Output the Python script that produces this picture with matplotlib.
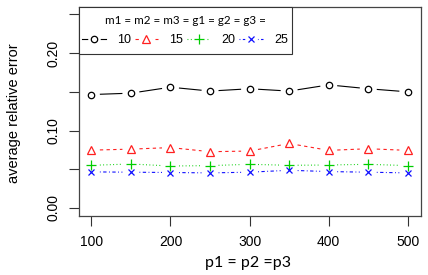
import matplotlib
matplotlib.use("Agg")
import matplotlib.pyplot as plt
from matplotlib.lines import Line2D
from matplotlib.patches import Rectangle
from matplotlib.ticker import FixedLocator, FixedFormatter
import numpy as np

p_values = [100, 150, 200, 250, 300, 350, 400, 450, 500]
err_10 = [0.1465, 0.1483, 0.1560, 0.1510, 0.1540, 0.1510, 0.1590, 0.1540, 0.1500]
err_15 = [0.0747, 0.0760, 0.0780, 0.0727, 0.0735, 0.0833, 0.0744, 0.0765, 0.0744]
err_20 = [0.0551, 0.0568, 0.0542, 0.0547, 0.0564, 0.0551, 0.0555, 0.0564, 0.0547]
err_25 = [0.0466, 0.0462, 0.0458, 0.0453, 0.0462, 0.0487, 0.0470, 0.0462, 0.0453]
series_labels = ["10", "15", "20", "25"]
legend_title = "m1 = m2 = m3 = g1 = g2 = g3 ="
x_label = "p1 = p2 =p3"
y_label = "average relative error"
y_ticks = [0.00, 0.05, 0.10, 0.15, 0.20, 0.25]
y_ticklabels = ["0.00", "", "0.10", "", "0.20", ""]
x_ticks = [100, 200, 300, 400, 500]

plt.rcParams['font.family'] = ['Liberation Sans', 'DejaVu Sans']

W, H = 428, 275
fig = plt.figure(figsize=(W / 100, H / 100), dpi=100)
ax_h_px = 215.7 - 6.7
ax = fig.add_axes([78.7 / W, 1 - 215.7 / H, (420.5 - 78.7) / W, ax_h_px / H])
ax.set_xlim(84, 516)
ax.set_ylim(-0.01, 0.26)

styles = [
    dict(color='black', marker='o', ms=4.6, dashes=None),
    dict(color='#FF2020', marker='^', ms=5.2, dashes=(3.0, 3.0)),
    dict(color='#00CD00', marker='+', ms=6.5, dashes=(0.8, 2.2)),
    dict(color='#1010FF', marker='x', ms=4.6, dashes=(0.8, 2.2, 3.0, 2.2)),
]
all_series = [err_10, err_15, err_20, err_25]

gap_px = 8.5
lw = 0.8
for ys, st in zip(all_series, styles):
    disp = ax.transData.transform(np.column_stack([p_values, ys]))
    for i in range(len(disp) - 1):
        a, b = disp[i], disp[i + 1]
        d = b - a
        L = np.hypot(*d)
        u = d / L
        a2 = a + u * gap_px
        b2 = b - u * gap_px
        seg = ax.transData.inverted().transform(np.array([a2, b2]))
        ln, = ax.plot(seg[:, 0], seg[:, 1], color=st['color'], lw=lw,
                      solid_capstyle='butt', dash_capstyle='butt')
        if st['dashes'] is not None:
            ln.set_dashes(st['dashes'])
    ax.plot(p_values, ys, ls='none', marker=st['marker'], ms=st['ms'],
            mfc='none', mec=st['color'], mew=0.9, zorder=4)

ax.yaxis.set_major_locator(FixedLocator(y_ticks))
ax.yaxis.set_major_formatter(FixedFormatter(y_ticklabels))
ax.set_xticks(x_ticks)
ax.tick_params(axis='both', length=7.2, width=0.8, color='#333333', labelsize=10)
ax.tick_params(axis='x', pad=6.5)
ax.tick_params(axis='y', pad=6)
for lab in ax.get_yticklabels():
    lab.set_rotation(90)
    lab.set_va('center')
for sp in ax.spines.values():
    sp.set_linewidth(0.9)
    sp.set_color('#444444')

ax.set_ylabel(y_label, fontsize=10.5)
ax.yaxis.set_label_coords((14 - 78.7) / (420.5 - 78.7), 0.49)
ax.yaxis.label.set_va('center')
ax.yaxis.label.set_ha('center')
ax.set_xlabel(x_label, fontsize=11.5, family=['Lato', 'DejaVu Sans'])
ax.xaxis.set_label_coords((248 - 78.7) / (420.5 - 78.7), -(262.7 - 215.7) / ax_h_px)
ax.xaxis.label.set_va('center')

handles = []
for st in styles:
    line_p = Line2D([], [], color=st['color'], lw=lw)
    if st['dashes'] is not None:
        line_p.set_dashes(st['dashes'])
    white_p = Line2D([], [], ls='none', marker='o', ms=8, mfc='white', mec='white')
    mark_p = Line2D([], [], ls='none', marker=st['marker'], ms=st['ms'],
                    mfc='none', mec=st['color'], mew=0.9)
    handles.append((line_p, white_p, mark_p))

leg = ax.legend(handles, series_labels, loc='upper left', ncol=4, title=legend_title,
                bbox_to_anchor=(0, 1 - 4.3 / ax_h_px),
                fontsize=9, frameon=False, borderaxespad=0, handlelength=1.85,
                labelspacing=0.65,
                handletextpad=0.9, columnspacing=0.32, borderpad=0.3,
                title_fontproperties={'family': ['Lato', 'DejaVu Sans'], 'size': 8.4})
leg.set_zorder(6)

# legend frame box, sized from the rendered legend extent
fig.canvas.draw()
bb = leg.get_window_extent()
inv = ax.transAxes.inverted()
x0, y0 = inv.transform((bb.x0, bb.y0 - 4.0))
x1, _ = inv.transform((bb.x1 + 1.0, bb.y1))
frame = Rectangle((0, y0), x1, 1 - y0, transform=ax.transAxes, facecolor='white',
                  edgecolor='#333333', linewidth=0.8, zorder=5, clip_on=False)
ax.add_patch(frame)

fig.savefig("out.png", dpi=100)
